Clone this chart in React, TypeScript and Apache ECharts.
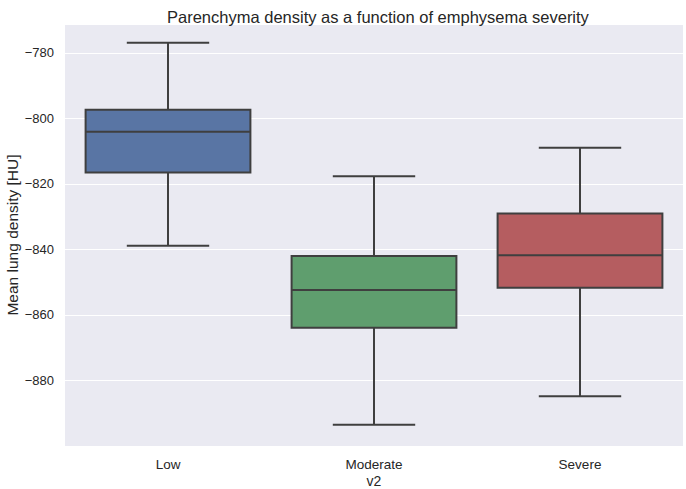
import React, { useEffect, useRef } from "react";
import * as echarts from "echarts";

const categories = ["Low", "Moderate", "Severe"];
// [lower whisker, Q1, median, Q3, upper whisker]
const lowStats = [-838.9, -816.5, -804.1, -797.4, -776.9];
const moderateStats = [-893.5, -863.9, -852.4, -842.0, -817.7];
const severeStats = [-884.8, -851.7, -841.8, -829.0, -809.0];
const boxColors = ["#5975a4", "#5f9e6e", "#b55d60"];
const yTicks = [-880, -860, -840, -820, -800, -780];

const allStats = [lowStats, moderateStats, severeStats];

export default function App() {
  const ref = useRef<HTMLDivElement>(null);
  useEffect(() => {
    if (!ref.current) return;
    const chart = echarts.init(ref.current, undefined, { renderer: "svg" });
    const font = "Liberation Sans, Arial, sans-serif";
    const lineColor = "#3f3f3f";
    chart.setOption({
      animation: false,
      backgroundColor: "#ffffff",
      title: {
        text: "Parenchyma density as a function of emphysema severity",
        left: 162,
        top: 3,
        textStyle: { fontFamily: font, fontSize: 16.5, fontWeight: "normal", color: "#262626" },
      },
      grid: {
        left: 65,
        right: 3,
        top: 24,
        bottom: 43,
        backgroundColor: "#eaeaf2",
        show: true,
        borderWidth: 0,
        containLabel: false,
        outerBoundsMode: "none",
      },
      xAxis: {
        type: "category",
        data: categories,
        name: "v2",
        nameLocation: "middle",
        nameGap: 28,
        nameMoveOverlap: false,
        nameTextStyle: { fontFamily: font, fontSize: 14, color: "#262626" },
        axisLine: { show: false },
        axisTick: { show: false },
        splitLine: { show: false },
        axisLabel: { fontFamily: font, fontSize: 13.5, color: "#262626", margin: 11 },
      },
      yAxis: {
        type: "value",
        min: -900,
        max: -771.2,
        interval: 20,
        name: "Mean lung density [HU]",
        nameLocation: "middle",
        nameGap: 45,
        nameMoveOverlap: false,
        nameTextStyle: { fontFamily: font, fontSize: 15.5, color: "#262626" },
        axisLine: { show: false },
        axisTick: { show: false },
        axisLabel: {
          fontFamily: font,
          fontSize: 13,
          color: "#262626",
          margin: 11,
          formatter: (v: number) => (yTicks.indexOf(Math.round(v)) >= 0 && Math.abs(v - Math.round(v)) < 1e-6 ? String(Math.round(v)).replace("-", "\u2212") : ""),
        },
        splitLine: { show: true, lineStyle: { color: "#ffffff", width: 1.2 } },
      },
      series: [
        {
          type: "custom",
          data: allStats.map((s, i) => [i, ...s]),
          encode: { x: 0, y: [1, 2, 3, 4, 5] },
          renderItem: (params: any, api: any) => {
            const idx = api.value(0);
            const mn = api.value(1);
            const q1 = api.value(2);
            const med = api.value(3);
            const q3 = api.value(4);
            const mx = api.value(5);
            const band = api.size([1, 0])[0];
            const cx = api.coord([idx, med])[0];
            const yMin = api.coord([idx, mn])[1];
            const yQ1 = api.coord([idx, q1])[1];
            const yMed = api.coord([idx, med])[1];
            const yQ3 = api.coord([idx, q3])[1];
            const yMax = api.coord([idx, mx])[1];
            const bw = band * 0.8;
            const cw = bw * 0.5;
            const ls = { stroke: lineColor, lineWidth: 2 };
            return {
              type: "group",
              children: [
                { type: "line", shape: { x1: cx, y1: yQ3, x2: cx, y2: yMax }, style: ls },
                { type: "line", shape: { x1: cx, y1: yQ1, x2: cx, y2: yMin }, style: ls },
                { type: "line", shape: { x1: cx - cw / 2, y1: yMax, x2: cx + cw / 2, y2: yMax }, style: ls },
                { type: "line", shape: { x1: cx - cw / 2, y1: yMin, x2: cx + cw / 2, y2: yMin }, style: ls },
                {
                  type: "rect",
                  shape: { x: cx - bw / 2, y: yQ3, width: bw, height: yQ1 - yQ3 },
                  style: { fill: boxColors[idx], stroke: lineColor, lineWidth: 2 },
                },
                { type: "line", shape: { x1: cx - bw / 2, y1: yMed, x2: cx + bw / 2, y2: yMed }, style: ls },
              ],
            };
          },
        },
      ],
    });
    return () => chart.dispose();
  }, []);
  return <div ref={ref} style={{ position: "fixed", left: 0, top: 0, width: 686, height: 489 }} />;
}
